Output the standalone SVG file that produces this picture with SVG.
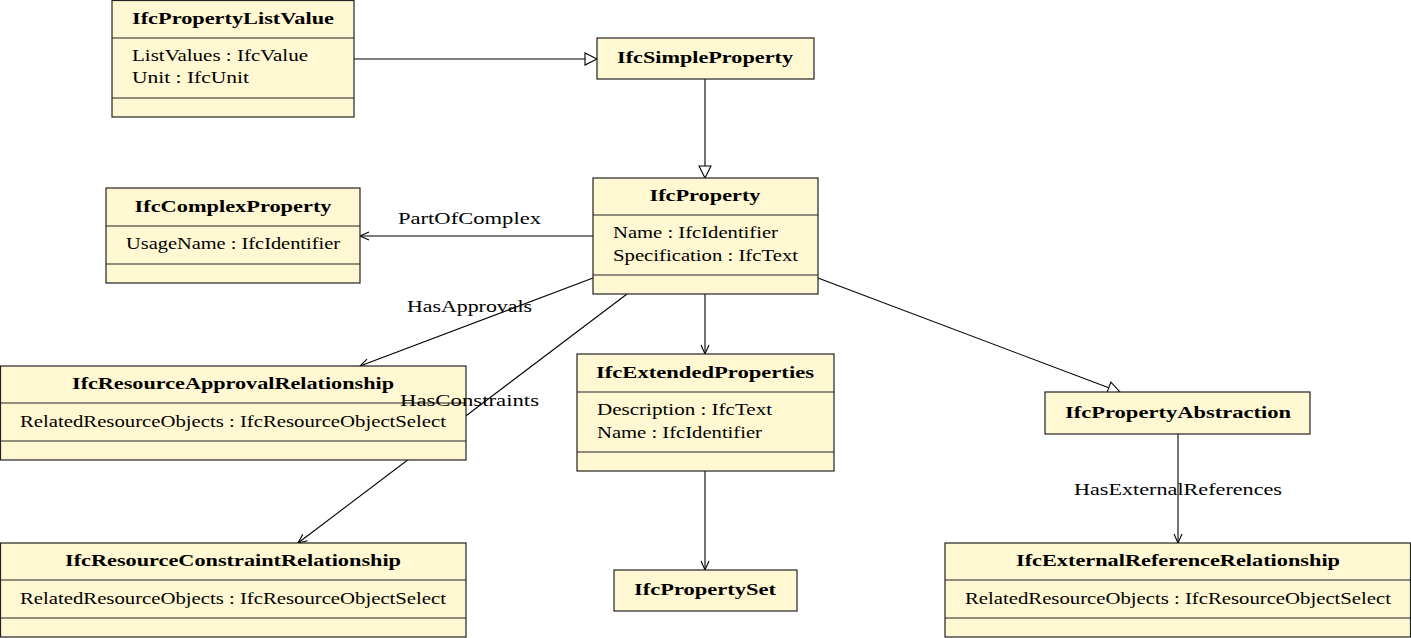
<svg xmlns="http://www.w3.org/2000/svg" width="1411" height="638" viewBox="0 0 1411 638">
<style>
.box{fill:#fff8d2;stroke:#222;stroke-width:1.2}
.sep{stroke:#222;stroke-width:1.2}
.t{font-family:"Liberation Serif","Times New Roman",serif;font-size:17px;fill:#000}
.b{font-weight:bold;text-anchor:middle}
.c{text-anchor:middle}
.e{stroke:#000;stroke-width:1.1;fill:none}
</style>
<defs>
<marker id="open" markerUnits="userSpaceOnUse" orient="auto" overflow="visible" markerWidth="12" markerHeight="12" refX="0" refY="0"><path d="M-9,-4 L0,0 L-9,4" fill="none" stroke="#000" stroke-width="1.1"/></marker>
<marker id="tri" markerUnits="userSpaceOnUse" orient="auto" overflow="visible" markerWidth="14" markerHeight="14" refX="0" refY="0"><path d="M-12,-6 L0,0 L-12,6 Z" fill="#fff" stroke="#000" stroke-width="1.1"/></marker>
</defs>
<g id="connectors">
<line class="e" x1="354" y1="59" x2="597" y2="59" marker-end="url(#tri)"/>
<line class="e" x1="705" y1="79" x2="705" y2="178" marker-end="url(#tri)"/>
<line class="e" x1="593" y1="236" x2="360" y2="236" marker-end="url(#open)"/>
<line class="e" x1="593" y1="278" x2="360" y2="366" marker-end="url(#open)"/>
<line class="e" x1="627" y1="294" x2="298" y2="543" marker-end="url(#open)"/>
<line class="e" x1="705" y1="294" x2="705" y2="354" marker-end="url(#open)"/>
<line class="e" x1="818" y1="278" x2="1120" y2="392" marker-end="url(#tri)"/>
<line class="e" x1="705" y1="471" x2="705" y2="570" marker-end="url(#open)"/>
<line class="e" x1="1178" y1="434" x2="1178" y2="543" marker-end="url(#open)"/>
</g>
<g id="IfcPropertyListValue">
<rect class="box" x="112" y="0.5" width="242" height="116.5"/>
<line class="sep" x1="112" y1="38" x2="354" y2="38"/>
<line class="sep" x1="112" y1="98" x2="354" y2="98"/>
<text class="t b" x="233" y="24" textLength="202" lengthAdjust="spacingAndGlyphs">IfcPropertyListValue</text>
<text class="t" x="132" y="61" textLength="176" lengthAdjust="spacingAndGlyphs">ListValues : IfcValue</text>
<text class="t" x="132" y="83" textLength="117" lengthAdjust="spacingAndGlyphs">Unit : IfcUnit</text>
</g>
<g id="IfcSimpleProperty">
<rect class="box" x="597" y="38" width="217" height="41"/>
<text class="t b" x="705" y="63" textLength="176" lengthAdjust="spacingAndGlyphs">IfcSimpleProperty</text>
</g>
<g id="IfcProperty">
<rect class="box" x="593" y="178" width="225" height="116"/>
<line class="sep" x1="593" y1="215" x2="818" y2="215"/>
<line class="sep" x1="593" y1="275" x2="818" y2="275"/>
<text class="t b" x="705" y="201" textLength="111" lengthAdjust="spacingAndGlyphs">IfcProperty</text>
<text class="t" x="613" y="238" textLength="165" lengthAdjust="spacingAndGlyphs">Name : IfcIdentifier</text>
<text class="t" x="613" y="261" textLength="185" lengthAdjust="spacingAndGlyphs">Specification : IfcText</text>
</g>
<g id="IfcComplexProperty">
<rect class="box" x="106" y="188" width="254" height="95"/>
<line class="sep" x1="106" y1="226" x2="360" y2="226"/>
<line class="sep" x1="106" y1="264" x2="360" y2="264"/>
<text class="t b" x="233" y="212" textLength="197" lengthAdjust="spacingAndGlyphs">IfcComplexProperty</text>
<text class="t" x="126" y="249" textLength="214" lengthAdjust="spacingAndGlyphs">UsageName : IfcIdentifier</text>
</g>
<g id="IfcResourceApprovalRelationship">
<rect class="box" x="0.5" y="366" width="465.5" height="94"/>
<line class="sep" x1="0" y1="403" x2="466" y2="403"/>
<line class="sep" x1="0" y1="441" x2="466" y2="441"/>
<text class="t b" x="233" y="389" textLength="322" lengthAdjust="spacingAndGlyphs">IfcResourceApprovalRelationship</text>
<text class="t c" x="233" y="427" textLength="426" lengthAdjust="spacingAndGlyphs">RelatedResourceObjects : IfcResourceObjectSelect</text>
</g>
<g id="IfcResourceConstraintRelationship">
<rect class="box" x="0.5" y="543" width="465.5" height="94"/>
<line class="sep" x1="0" y1="580" x2="466" y2="580"/>
<line class="sep" x1="0" y1="618" x2="466" y2="618"/>
<text class="t b" x="233" y="566" textLength="336" lengthAdjust="spacingAndGlyphs">IfcResourceConstraintRelationship</text>
<text class="t c" x="233" y="604" textLength="426" lengthAdjust="spacingAndGlyphs">RelatedResourceObjects : IfcResourceObjectSelect</text>
</g>
<g id="IfcExtendedProperties">
<rect class="box" x="577" y="354" width="257" height="117"/>
<line class="sep" x1="577" y1="392" x2="834" y2="392"/>
<line class="sep" x1="577" y1="452" x2="834" y2="452"/>
<text class="t b" x="705" y="378" textLength="218" lengthAdjust="spacingAndGlyphs">IfcExtendedProperties</text>
<text class="t" x="597" y="415" textLength="175" lengthAdjust="spacingAndGlyphs">Description : IfcText</text>
<text class="t" x="597" y="438" textLength="165" lengthAdjust="spacingAndGlyphs">Name : IfcIdentifier</text>
</g>
<g id="IfcPropertySet">
<rect class="box" x="614" y="570" width="183" height="41"/>
<text class="t b" x="705" y="595" textLength="142" lengthAdjust="spacingAndGlyphs">IfcPropertySet</text>
</g>
<g id="IfcPropertyAbstraction">
<rect class="box" x="1045" y="392" width="265" height="42"/>
<text class="t b" x="1178" y="418" textLength="226" lengthAdjust="spacingAndGlyphs">IfcPropertyAbstraction</text>
</g>
<g id="IfcExternalReferenceRelationship">
<rect class="box" x="945" y="543" width="465.5" height="94"/>
<line class="sep" x1="945" y1="580" x2="1410.5" y2="580"/>
<line class="sep" x1="945" y1="618" x2="1410.5" y2="618"/>
<text class="t b" x="1178" y="566" textLength="324" lengthAdjust="spacingAndGlyphs">IfcExternalReferenceRelationship</text>
<text class="t c" x="1178" y="604" textLength="426" lengthAdjust="spacingAndGlyphs">RelatedResourceObjects : IfcResourceObjectSelect</text>
</g>
<g id="labels">
<text class="t c" x="469.5" y="224" textLength="143" lengthAdjust="spacingAndGlyphs">PartOfComplex</text>
<text class="t c" x="469.5" y="312" textLength="125" lengthAdjust="spacingAndGlyphs">HasApprovals</text>
<text class="t c" x="469.5" y="406" textLength="139" lengthAdjust="spacingAndGlyphs">HasConstraints</text>
<text class="t c" x="1178" y="495" textLength="208" lengthAdjust="spacingAndGlyphs">HasExternalReferences</text>
</g>
</svg>
